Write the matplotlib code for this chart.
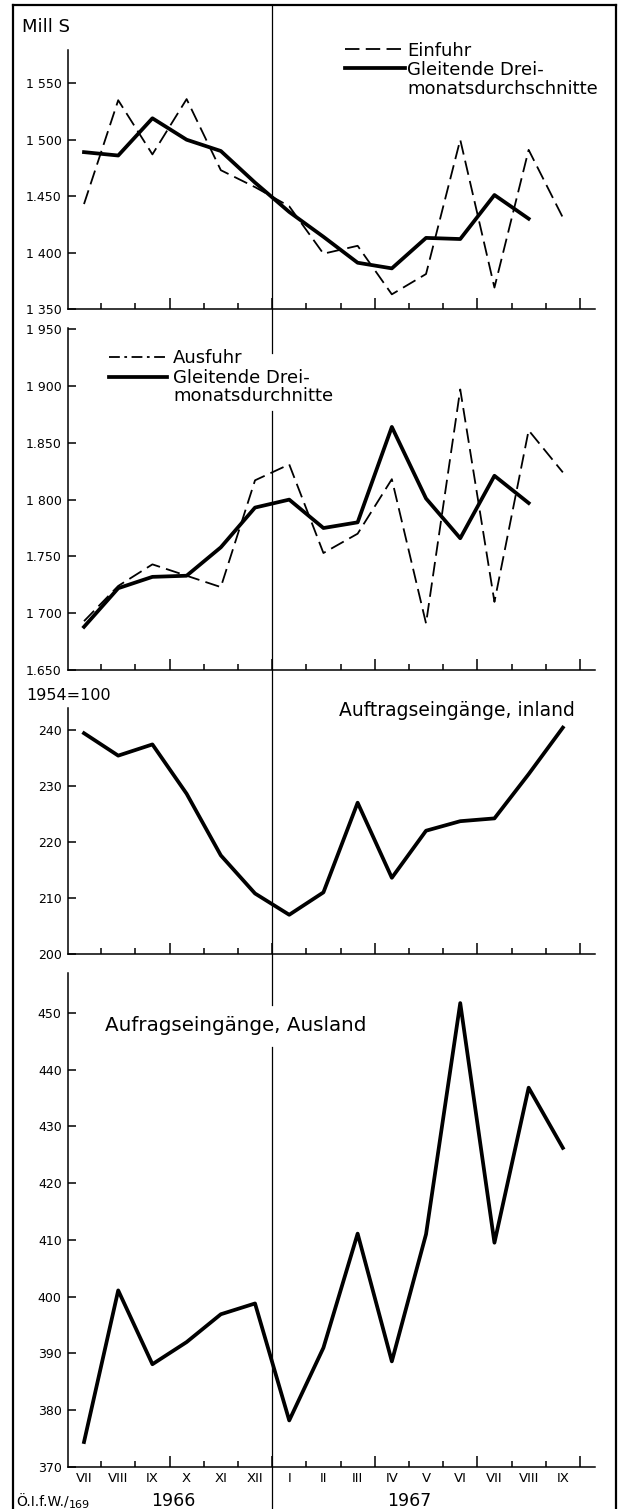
import numpy as np
import matplotlib
matplotlib.use("Agg")
import matplotlib.pyplot as plt
from matplotlib.lines import Line2D
import matplotlib.transforms as mtransforms

plt.rcParams['font.family'] = ['DejaVu Sans']

# ---------------- data ----------------
months = ['VII', 'VIII', 'IX', 'X', 'XI', 'XII', 'I', 'II', 'III', 'IV', 'V', 'VI', 'VII', 'VIII', 'IX']
years = ['1966', '1967']

einfuhr = [1443, 1535, 1487, 1536, 1473, 1458, 1441, 1399, 1406, 1363, 1381, 1500, 1369, 1491, 1431]
einfuhr_ma = [1489, 1486, 1519, 1500, 1490, 1462, 1436, 1414, 1391, 1386, 1413, 1412, 1451, 1430]

ausfuhr = [1693, 1724, 1743, 1733, 1723, 1817, 1831, 1753, 1770, 1818, 1691, 1897, 1710, 1861, 1824]
ausfuhr_ma = [1688, 1722, 1732, 1733, 1758, 1793, 1800, 1775, 1780, 1864, 1801, 1766, 1821, 1797]

inland = [239.4, 235.4, 237.4, 228.6, 217.6, 210.8, 207.0, 211.0, 227.0, 213.6, 222.0, 223.7, 224.2, 232.1, 240.4]
ausland = [374.4, 401.1, 388.1, 392.0, 396.9, 398.8, 378.2, 391.0, 411.1, 388.6, 411.0, 451.7, 409.5, 436.8, 426.2]

p1_ticks = [1350, 1400, 1450, 1500, 1550]
p1_labels = ['1 350', '1 400', '1.450', '1 500', '1 550']
p2_ticks = [1650, 1700, 1750, 1800, 1850, 1900, 1950]
p2_labels = ['1.650', '1 700', '1.750', '1 800', '1.850', '1 900', '1 950']
p3_ticks = [200, 210, 220, 230, 240]
p4_ticks = [370, 380, 390, 400, 410, 420, 430, 440, 450]

# ---------------- layout helpers ----------------
W, H = 622, 1509
fig = plt.figure(figsize=(W / 100, H / 100), dpi=100)
fig.patch.set_facecolor('white')


def fx(px):
    return px / W


def fy(py):
    return 1 - py / H


x = np.arange(len(months))
XLIM = (-0.468, 14.94)
half = np.arange(len(months)) + 0.5
quarter = [h for h in half if (h - 2.5) % 3 == 0]
other = [h for h in half if (h - 2.5) % 3 != 0]


def add_panel(top, bottom, ylim, ticks, labels=None):
    ax = fig.add_axes([fx(68), fy(bottom), fx(595) - fx(68), (bottom - top) / H])
    ax.set_facecolor('none')
    ax.set_xlim(*XLIM)
    ax.set_ylim(*ylim)
    for s in ['top', 'right']:
        ax.spines[s].set_visible(False)
    for s in ['left', 'bottom']:
        ax.spines[s].set_linewidth(1.1)
    ax.set_yticks(ticks, labels=labels if labels is not None else [str(t) for t in ticks])
    ax.tick_params(axis='y', direction='in', length=5.5, width=1.1, pad=4.5, labelsize=9)
    ax.set_xticks(quarter)
    ax.set_xticks(other, minor=True)
    ax.tick_params(axis='x', which='major', direction='in', length=8, width=1.1, labelbottom=False)
    ax.tick_params(axis='x', which='minor', direction='in', length=4.5, width=1.1, labelbottom=False)
    return ax


ax1 = add_panel(50, 309, (1350, 1579.5), p1_ticks, p1_labels)
ax2 = add_panel(328, 670, (1650, 1951.1), p2_ticks, p2_labels)
ax3 = add_panel(708, 954, (200, 243.9), p3_ticks)
ax4 = add_panel(973, 1467, (370, 457), p4_ticks)

DASH = (8, 3.5)
LW_D = 1.3
LW_S = 2.7

ax1.plot(x, einfuhr, color='black', lw=LW_D, dashes=DASH)
ax1.plot(x[:len(einfuhr_ma)], einfuhr_ma, color='black', lw=LW_S)
ax2.plot(x, ausfuhr, color='black', lw=LW_D, dashes=DASH)
ax2.plot(x[:len(ausfuhr_ma)], ausfuhr_ma, color='black', lw=LW_S)
ax3.plot(x, inland, color='black', lw=LW_S)
ax4.plot(x, ausland, color='black', lw=LW_S)

# ---------------- vertical year separator ----------------
blend = mtransforms.blended_transform_factory(ax4.transData, fig.transFigure)
for y0, y1 in [(5, 353), (411, 1005), (1047, 1509)]:
    fig.add_artist(Line2D([5.5, 5.5], [fy(y0), fy(y1)], transform=blend, color='black', lw=0.9, zorder=-1))

# ---------------- outer frame ----------------
for xs, ys in [([13, 13], [5, 1509]), ([13, 616], [5, 5]), ([616, 616], [5, 1509])]:
    fig.add_artist(Line2D([fx(v) for v in xs], [fy(v) for v in ys], transform=fig.transFigure,
                          color='black', lw=1.6))

# ---------------- texts ----------------
fig.text(fx(22), fy(32), 'Mill S', fontsize=13, va='baseline', ha='left')
fig.text(fx(26), fy(700), '1954=100', fontsize=11.5, va='baseline', ha='left')

# legend panel 1
fig.add_artist(Line2D([fx(345), fx(405)], [fy(49), fy(49)], transform=fig.transFigure,
                      color='black', lw=LW_D, dashes=DASH))
fig.add_artist(Line2D([fx(345), fx(405)], [fy(68), fy(68)], transform=fig.transFigure,
                      color='black', lw=LW_S))
fig.text(fx(407), fy(56), 'Einfuhr', fontsize=13, va='baseline')
fig.text(fx(407), fy(75), 'Gleitende Drei-', fontsize=13, va='baseline')
fig.text(fx(407), fy(94), 'monatsdurchschnitte', fontsize=13, va='baseline')

# legend panel 2
fig.add_artist(Line2D([fx(109), fx(167)], [fy(357), fy(357)], transform=fig.transFigure,
                      color='black', lw=LW_D, dashes=(6, 2.5, 1.5, 2.5)))
fig.add_artist(Line2D([fx(109), fx(167)], [fy(377), fy(377)], transform=fig.transFigure,
                      color='black', lw=LW_S))
fig.text(fx(173), fy(363), 'Ausfuhr', fontsize=13, va='baseline')
fig.text(fx(173), fy(383), 'Gleitende Drei-', fontsize=13, va='baseline')
fig.text(fx(173), fy(401), 'monatsdurchnitte', fontsize=13, va='baseline')

fig.text(fx(339), fy(716), 'Auftragseingänge, inland', fontsize=13.5, va='baseline')
fig.text(fx(105), fy(1031), 'Aufragseingänge, Ausland', fontsize=14.3, va='baseline')

# month labels and years
for i, m in enumerate(months):
    ax4.text(i, fy(1482), m, transform=blend, ha='center', va='baseline', fontsize=9.5)
ax4.text(2.6, fy(1506), years[0], transform=blend, ha='center', va='baseline', fontsize=12.5)
ax4.text(9.5, fy(1506), years[1], transform=blend, ha='center', va='baseline', fontsize=12.5)

t = fig.text(fx(16), fy(1507), 'Ö.I.f.W./', fontsize=10, va='baseline', ha='left')
fig.text(0, 0, '169', fontsize=8, va='baseline', ha='left',
         transform=mtransforms.offset_copy(fig.transFigure, fig=fig, x=0, y=0))
fig.texts[-1].remove()
ann = plt.annotate('169', xy=(1, 0), xycoords=t, fontsize=8, va='bottom', ha='left', annotation_clip=False)

fig.savefig('out.png', dpi=100, facecolor='white')
